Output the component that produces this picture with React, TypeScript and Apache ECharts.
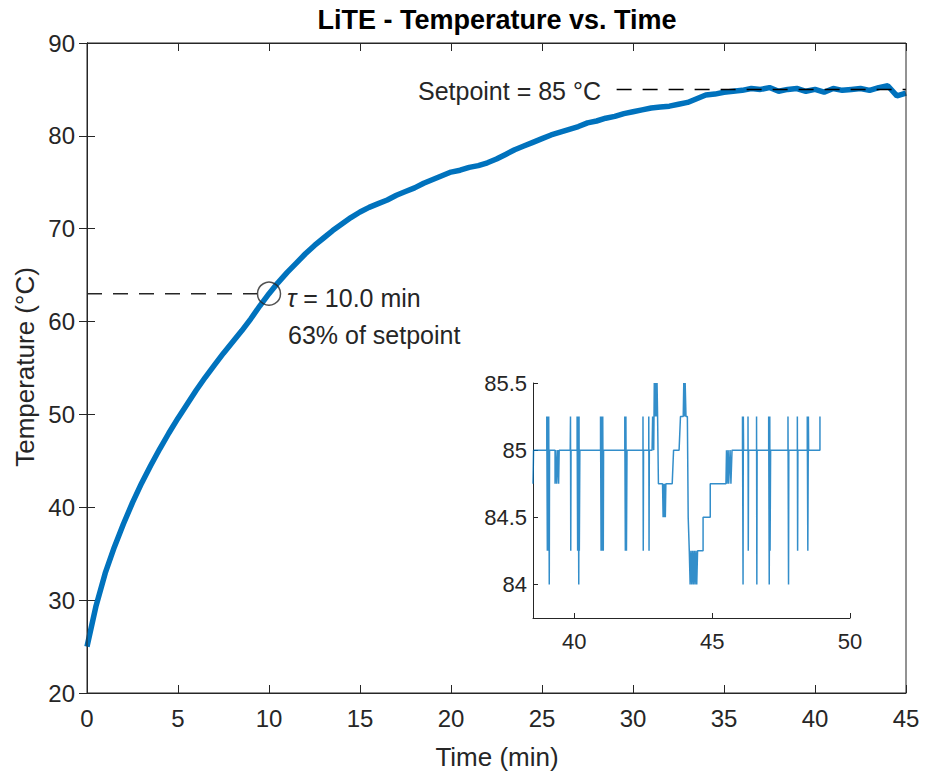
import React, { useEffect, useRef } from "react";
import * as echarts from "echarts";

// ---- data ----
const timeMin = [
  0, 0.5, 1, 1.5, 2, 2.5, 3, 3.5, 4, 4.5, 5, 5.5, 6, 6.5, 7, 7.5, 8, 8.5, 9, 9.5,
  10, 10.5, 11, 11.5, 12, 12.5, 13, 13.5, 14, 14.5, 15, 15.5, 16, 16.5, 17, 17.5,
  18, 18.5, 19, 19.5, 20, 20.5, 21, 21.5, 22, 22.5, 23, 23.5, 24, 24.5, 25, 25.5,
  26, 26.5, 27, 27.5, 28, 28.5, 29, 29.5, 30, 30.5, 31, 31.5, 32, 32.5, 33, 33.5,
  34, 34.5, 35, 35.5, 36, 36.5, 37, 37.5, 38, 38.5, 39, 39.5, 40, 40.5, 41, 41.5,
  42, 42.5, 43, 43.5, 44, 44.5, 45,
];
const tempC = [
  25.0, 29.4, 32.9, 35.7, 38.2, 40.5, 42.6, 44.5, 46.3, 48.0, 49.6, 51.1, 52.6, 54.0,
  55.3, 56.6, 57.8, 59.0, 60.3, 61.7, 63.0, 64.2, 65.3, 66.3, 67.3, 68.2, 69.0, 69.8,
  70.5, 71.2, 71.8, 72.3, 72.7, 73.1, 73.6, 74.0, 74.4, 74.9, 75.3, 75.7, 76.1, 76.3,
  76.6, 76.8, 77.1, 77.5, 78.0, 78.5, 78.9, 79.3, 79.7, 80.1, 80.4, 80.7, 81.0, 81.4,
  81.6, 81.9, 82.1, 82.4, 82.6, 82.8, 83.0, 83.1, 83.2, 83.4, 83.6, 84.0, 84.4, 84.5,
  84.7, 84.8, 84.9, 85.1, 85.0, 85.2, 84.8, 85.0, 85.1, 84.8, 85.0, 84.7, 85.1, 84.9,
  85.0, 85.1, 84.9, 85.2, 85.4, 84.3, 84.6,
];

const insetTime = [
  38.5, 38.52, 39.0, 39.0, 39.02, 39.04, 39.06, 39.07, 39.09, 39.1,
  39.3, 39.3, 39.33, 39.36, 39.4, 39.43, 39.45,
  39.85, 39.86, 39.87, 39.88,
  40.1, 40.1, 40.12, 40.14, 40.16, 40.17, 40.18, 40.2,
  40.95, 40.95, 40.97, 40.99, 41.01, 41.03, 41.05, 41.06,
  41.83, 41.83, 41.85, 41.87, 41.89, 41.91,
  42.49, 42.49, 42.5, 42.51,
  42.7, 42.7, 42.71, 42.72,
  42.82, 42.84, 42.88, 42.9, 42.93, 42.95, 42.98, 43.0, 43.02, 43.05, 43.2,
  43.22, 43.24, 43.26, 43.28, 43.3, 43.32,
  43.55, 43.6, 43.8, 43.85, 43.95, 43.97, 44.0, 44.02, 44.05, 44.1, 44.13, 44.17,
  44.2, 44.23, 44.26, 44.29, 44.32, 44.35, 44.38, 44.41, 44.44, 44.47,
  44.67, 44.67, 44.93, 44.93, 45.5, 45.52, 45.54, 45.58, 45.6, 45.65, 45.68, 45.72,
  46.1, 46.1, 46.12, 46.13, 46.14,
  46.3, 46.3, 46.31, 46.32,
  46.61, 46.61, 46.62, 46.63,
  47.05, 47.05, 47.07, 47.09, 47.1, 47.12,
  47.75, 47.75, 47.77, 47.78,
  48.09, 48.09, 48.1, 48.11,
  48.45, 48.45, 48.47, 48.49, 48.5,
  48.91, 48.91,
];
const insetTemp = [
  84.75, 85.0, 85.0, 85.25, 84.25, 85.25, 84.25, 85.25, 84.0, 85.0,
  85.0, 84.75, 85.0, 84.75, 85.0, 84.75, 85.0,
  85.0, 85.25, 84.25, 85.0,
  85.0, 85.25, 84.25, 85.25, 84.0, 85.25, 84.25, 85.0,
  85.0, 85.25, 84.25, 85.25, 84.25, 85.25, 84.25, 85.0,
  85.0, 85.25, 84.25, 85.25, 84.25, 85.0,
  85.0, 85.25, 84.25, 85.0,
  85.0, 85.25, 84.25, 85.0,
  85.0, 85.25, 85.0, 85.5, 85.25, 85.5, 85.25, 85.5, 85.25, 84.75, 84.75,
  84.5, 84.75, 84.5, 84.75, 84.5, 84.75,
  84.75, 85.0, 85.0, 85.25, 85.25, 85.5, 85.25, 85.5, 85.25, 85.25, 84.5, 84.25,
  84.0, 84.25, 84.0, 84.25, 84.0, 84.25, 84.0, 84.25, 84.0, 84.25,
  84.25, 84.5, 84.5, 84.75, 84.75, 85.0, 84.75, 85.0, 84.75, 85.0, 84.75, 85.0,
  85.0, 85.25, 84.0, 85.25, 85.0,
  85.0, 85.25, 84.25, 85.0,
  85.0, 85.25, 84.0, 85.0,
  85.0, 85.25, 84.0, 85.25, 84.25, 85.0,
  85.0, 85.25, 84.0, 85.0,
  85.0, 85.25, 84.25, 85.0,
  85.0, 85.25, 84.25, 85.25, 85.0,
  85.0, 85.25,
];

const insetXTicks = [40, 45, 50];
const insetYTicks = [84, 84.5, 85, 85.5];
const setpoint = 85;
const setpointLineStart = 29.1;
const tauMin = 10.0;
const tauTemp = 63;

const FONT = "'Liberation Sans', Arial, Helvetica, sans-serif";
const INK = "#262626";
const BLUE = "#0072BD";

export default function App() {
  const ref = useRef<HTMLDivElement>(null);
  useEffect(() => {
    if (!ref.current) return;
    const chart = echarts.init(ref.current, undefined, { renderer: "svg" });

    const mainAxisCommon = {
      type: "value" as const,
      axisLine: { show: true, lineStyle: { color: INK, width: 1 } },
      axisTick: { show: true, inside: true, length: 8, lineStyle: { color: INK } },
      splitLine: { show: false },
    };

    chart.setOption({
      animation: false,
      backgroundColor: "#ffffff",
      textStyle: { fontFamily: FONT },
      grid: [
        { left: 87, right: 19, top: 43, bottom: 83, show: false },
        { left: 533, top: 383, width: 317, height: 235, show: true, borderWidth: 0, backgroundColor: "#ffffff" },
      ],
      xAxis: [
        {
          ...mainAxisCommon, gridIndex: 0, position: "bottom", min: 0, max: 45, interval: 5,
          axisLabel: { color: INK, fontSize: 24, margin: 13, fontFamily: FONT },
        },
        {
          ...mainAxisCommon, gridIndex: 0, position: "top", min: 0, max: 45, interval: 5,
          axisLabel: { show: false },
        },
        {
          type: "value", gridIndex: 1, position: "bottom", min: 38.5, max: 50,
          axisLine: { show: true, onZero: false, lineStyle: { color: INK, width: 1 } },
          axisTick: { show: true, inside: true, length: 5, customValues: insetXTicks, lineStyle: { color: INK } },
          axisLabel: { color: INK, fontSize: 22, margin: 12, fontFamily: FONT, customValues: insetXTicks },
          splitLine: { show: false },
        },
      ],
      yAxis: [
        {
          ...mainAxisCommon, gridIndex: 0, position: "left", min: 20, max: 90, interval: 10,
          axisLabel: { color: INK, fontSize: 24, margin: 12, fontFamily: FONT },
        },
        {
          ...mainAxisCommon, gridIndex: 0, position: "right", min: 20, max: 90, interval: 10,
          axisLabel: { show: false },
        },
        {
          type: "value", gridIndex: 1, position: "left", min: 83.75, max: 85.5,
          axisLine: { show: true, onZero: false, lineStyle: { color: INK, width: 1 } },
          axisTick: { show: true, inside: true, length: 5, customValues: insetYTicks, lineStyle: { color: INK } },
          axisLabel: { color: INK, fontSize: 22, margin: 6, fontFamily: FONT, customValues: insetYTicks },
          splitLine: { show: false },
        },
      ],
      series: [
        {
          type: "line", xAxisIndex: 0, yAxisIndex: 0, showSymbol: false, z: 3,
          data: timeMin.map((t, i) => [t, tempC[i]]),
          lineStyle: { color: BLUE, width: 5.5 },
        },
        {
          type: "line", xAxisIndex: 0, yAxisIndex: 0, showSymbol: false, z: 4,
          data: [[0, tauTemp], [tauMin - 0.65, tauTemp]],
          lineStyle: { color: INK, width: 1.5, type: [15, 11] },
        },
        {
          type: "line", xAxisIndex: 0, yAxisIndex: 0, showSymbol: false, z: 4,
          data: [[setpointLineStart, setpoint], [45, setpoint]],
          lineStyle: { color: "#000000", width: 1.5, type: [15, 11] },
        },
        {
          type: "scatter", xAxisIndex: 0, yAxisIndex: 0, z: 5,
          data: [[tauMin, tauTemp]], symbol: "circle", symbolSize: 23,
          itemStyle: { color: "rgba(0,0,0,0)", borderColor: INK, borderWidth: 1.5 },
        },
        {
          type: "line", xAxisIndex: 2, yAxisIndex: 2, showSymbol: false, z: 6,
          data: insetTime.map((t, i) => [t, insetTemp[i]]),
          lineStyle: { color: BLUE, width: 1.5, opacity: 0.8 },
        },
      ],
      graphic: [
        {
          type: "rect", silent: true, z: 10,
          shape: { x: 87, y: 43, width: 819, height: 650 },
          style: { fill: "none", stroke: INK, lineWidth: 1 },
        },
        {
          type: "text", x: 497, y: 20,
          style: { text: "LiTE - Temperature vs. Time", fill: "#000", font: `bold 27px ${FONT}`, textAlign: "center", textVerticalAlign: "middle" },
        },
        {
          type: "text", x: 497, y: 757,
          style: { text: "Time (min)", fill: INK, font: `26px ${FONT}`, textAlign: "center", textVerticalAlign: "middle" },
        },
        {
          type: "text", x: 25, y: 367, rotation: Math.PI / 2,
          style: { text: "Temperature (°C)", fill: INK, font: `26px ${FONT}`, textAlign: "center", textVerticalAlign: "middle" },
        },
        {
          type: "text", x: 287, y: 298,
          style: {
            text: "{i|τ} = 10.0 min", fill: INK, font: `25px ${FONT}`, textAlign: "left", textVerticalAlign: "middle",
            rich: { i: { fontStyle: "italic", fontSize: 25, fontFamily: FONT, fill: INK } },
          },
        },
        {
          type: "text", x: 288, y: 335,
          style: { text: "63% of setpoint", fill: INK, font: `25px ${FONT}`, textAlign: "left", textVerticalAlign: "middle" },
        },
        {
          type: "text", x: 601, y: 91,
          style: { text: "Setpoint = 85 °C", fill: INK, font: `25px ${FONT}`, textAlign: "right", textVerticalAlign: "middle" },
        },
      ],
    });
    return () => chart.dispose();
  }, []);
  return <div ref={ref} style={{ width: 925, height: 776, position: "absolute", left: 0, top: 0 }} />;
}
